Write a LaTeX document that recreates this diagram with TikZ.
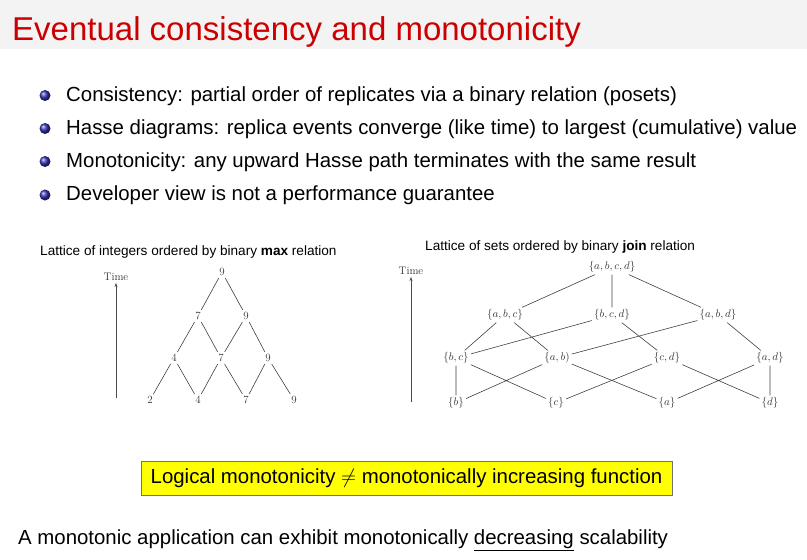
\documentclass[tikz,border=0pt]{standalone}
\usepackage{fontspec}
\newfontfamily\slidefont{Liberation Sans}
\usetikzlibrary{arrows.meta}
\definecolor{titleRed}{HTML}{CC0000}
\definecolor{barGray}{HTML}{F3F3F3}
\definecolor{ballBlue}{HTML}{3030B0}
\definecolor{boxYellow}{HTML}{FFFF00}

\begin{document}
\begin{tikzpicture}[x=1pt,y=-1pt,
  txt/.style={anchor=base west,inner sep=0,font=\slidefont\fontsize{20.4}{24}\selectfont},
  bullet/.style={circle,inner sep=0,minimum size=11pt,ball color=ballBlue},
  caption/.style={anchor=base west,inner sep=0,font=\slidefont\fontsize{13.6}{16}\selectfont},
  elem/.style={inner sep=2pt,font=\fontsize{11}{13}\selectfont,text=black!80},
  hasse/.style={draw=black!75,line width=0.6pt},
  timeax/.style={-{Stealth[length=4pt,width=3pt]},draw=black!70,line width=0.5pt}
]
\useasboundingbox (0,0) rectangle (807,560);
\fill[barGray] (0,0) rectangle (807,49);
\node[anchor=base west,inner sep=0,text=titleRed,font=\slidefont\fontsize{33}{40}\selectfont] (title) at (12,40) {Eventual consistency and monotonicity};

% bullet list
\node[bullet] (b1) at (45,95.5) {};
\node[txt] (t1) at (66,101.5) {Consistency: partial order of replicates via a binary relation (posets)};
\node[bullet] (b2) at (45,128.5) {};
\node[txt] (t2) at (66,134) {Hasse diagrams: replica events converge (like time) to largest (cumulative) value};
\node[bullet] (b3) at (45,161.5) {};
\node[txt] (t3) at (66,167.3) {Monotonicity: any upward Hasse path terminates with the same result};
\node[bullet] (b4) at (45,195) {};
\node[txt] (t4) at (66,200.5) {Developer view is not a performance guarantee};

% integers, max
\node[caption] (capL) at (40,255) {Lattice of integers ordered by binary \textbf{max} relation};
\node[elem] (timeL) at (116,277) {Time};
\coordinate (timeL0) at (116,398);
\draw[timeax] (timeL0) -- (timeL);
\node[elem] (n9) at (222,272) {9};
\node[elem] (n7a) at (198,316) {7};
\node[elem] (n9a) at (246,316) {9};
\node[elem] (n4b) at (174,358) {4};
\node[elem] (n7b) at (221,358) {7};
\node[elem] (n9b) at (268,358) {9};
\node[elem] (n2c) at (150,400) {2};
\node[elem] (n4c) at (198,400) {4};
\node[elem] (n7c) at (246,400) {7};
\node[elem] (n9c) at (294,400) {9};
\draw[hasse] (n9) -- (n7a) (n9) -- (n9a);
\draw[hasse] (n7a) -- (n4b) (n7a) -- (n7b) (n9a) -- (n7b) (n9a) -- (n9b);
\draw[hasse] (n4b) -- (n2c) (n4b) -- (n4c) (n7b) -- (n4c) (n7b) -- (n7c);
\draw[hasse] (n9b) -- (n7c) (n9b) -- (n9c);

% sets, join
\node[caption] (capR) at (425,250.5) {Lattice of sets ordered by binary \textbf{join} relation};
\node[elem] (timeR) at (411,271) {Time};
\coordinate (timeR0) at (411,402);
\draw[timeax] (timeR0) -- (timeR);
\node[elem] (abcd) at (612,267) {$\{a,b,c,d\}$};
\node[elem] (abc) at (505,315) {$\{a,b,c\}$};
\node[elem] (bcd) at (612,315) {$\{b,c,d\}$};
\node[elem] (abd) at (718,315) {$\{a,b,d\}$};
\node[elem] (bc) at (456,358) {$\{b,c\}$};
\node[elem] (ab) at (557,358) {$\{a,b)$};
\node[elem] (cd) at (667,358) {$\{c,d\}$};
\node[elem] (ad) at (770,358) {$\{a,d\}$};
\node[elem] (b) at (456,403) {$\{b\}$};
\node[elem] (c) at (556,403) {$\{c\}$};
\node[elem] (a) at (667,403) {$\{a\}$};
\node[elem] (d) at (770,403) {$\{d\}$};
\draw[hasse] (abcd) -- (abc) (abcd) -- (bcd) (abcd) -- (abd);
\draw[hasse] (abc) -- (bc) (abc) -- (ab) (bcd) -- (bc) (bcd) -- (cd) (abd) -- (ab) (abd) -- (ad);
\draw[hasse] (bc) -- (b) (bc) -- (c) (ab) -- (b) (ab) -- (a);
\draw[hasse] (cd) -- (c) (cd) -- (d) (ad) -- (a) (ad) -- (d);

% conclusion
\node[draw=black!55,fill=boxYellow,minimum width=531pt,minimum height=34pt,inner sep=0,font=\slidefont\fontsize{20.4}{24}\selectfont] (note) at (406.5,478) {Logical monotonicity $\neq$ monotonically increasing function};
\node[txt] (concl) at (18,544.5) {A monotonic application can exhibit monotonically \underline{decreasing} scalability};
\end{tikzpicture}
\end{document}
